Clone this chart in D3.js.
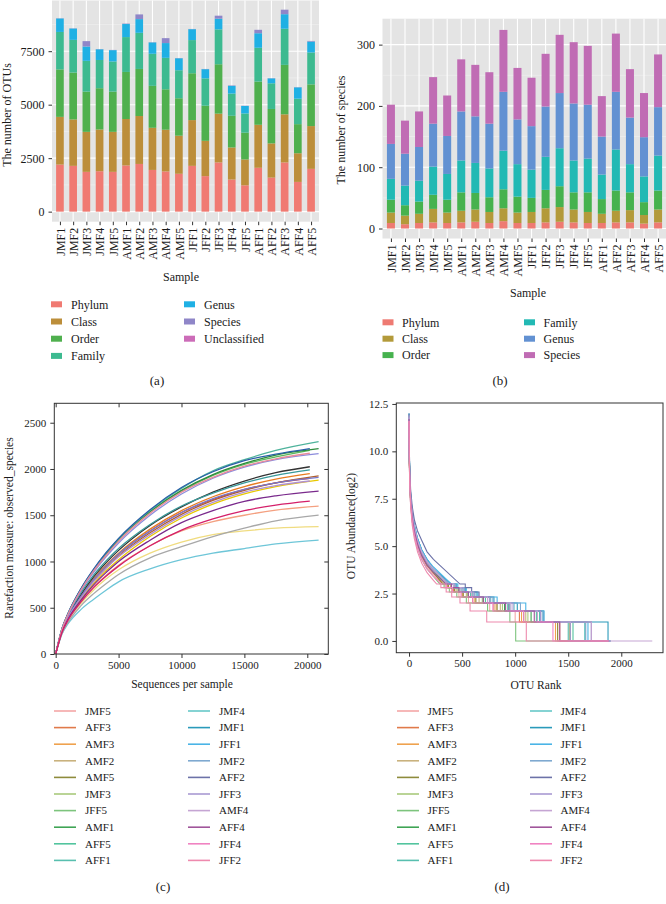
<!DOCTYPE html>
<html><head><meta charset="utf-8">
<script src="https://cdn.jsdelivr.net/npm/d3@7"></script>
<style>
body{margin:0;background:#fff}
svg{display:block}
text{font-family:"Liberation Serif","DejaVu Serif",serif;fill:#1a1a1a}
</style>
</head><body>
<svg id="chart" width="666" height="904"></svg>
<script>
// ---------- Data ----------
const samples = ["JMF1","JMF2","JMF3","JMF4","JMF5","AMF1","AMF2","AMF3","AMF4","AMF5","JFF1","JFF2","JFF3","JFF4","JFF5","AFF1","AFF2","AFF3","AFF4","AFF5"];

// (a) number of OTUs per taxonomic level
const otuLevels = ["Phylum","Class","Order","Family","Genus","Species","Unclassified"];
const otuPhylum  = [2200,2140,1860,1890,1860,2160,2230,1950,1880,1770,2140,1660,2300,1500,1230,2050,1590,2300,1390,2000];
const otuClass   = [2230,2170,1870,1950,1870,2170,2240,1970,1950,1780,2140,1650,2280,1500,1210,2010,1600,2250,1340,2000];
const otuOrder   = [2220,2190,1880,1930,1880,2200,2200,1960,1890,1750,2190,1640,2310,1480,1250,2020,1610,2310,1360,1950];
const otuFamily  = [1750,1530,1440,1320,1410,1630,1690,1500,1470,1310,1550,1280,1630,1040,900,1580,1200,1690,1190,1490];
const otuGenus   = [630,530,670,500,530,610,640,530,690,560,510,430,500,360,350,680,230,680,530,510];
const otuSpecies = [10,10,250,10,10,20,220,10,230,10,10,10,140,20,10,160,10,210,10,30];
const otuUnclass = [0,0,0,0,0,0,0,0,0,0,0,0,0,0,0,0,0,0,0,0];
const otuColors  = ["#F07A72","#BC8E3A","#4FB04E","#3DBA90","#1FB0E4","#8F86C8","#CC6CB8"];
const otuTicks   = [0,2500,5000,7500];

// (b) number of species per taxonomic level
const spLevels  = ["Phylum","Class","Order","Family","Genus","Species"];
const spPhylum  = [9,7,9,10,9,10,11,9,12,9,9,10,11,10,9,9,10,10,8,10];
const spClass   = [17,14,15,22,17,19,20,18,21,17,18,23,24,21,18,15,19,20,14,21];
const spOrder   = [21,17,20,23,21,30,27,24,31,26,23,30,34,28,32,24,33,29,21,31];
const spFamily  = [34,32,34,46,42,52,49,47,63,53,46,54,62,52,55,40,67,46,42,57];
const spGenus   = [57,52,55,70,62,80,76,73,96,73,71,82,90,93,88,62,94,76,64,79];
const spSpecies = [64,54,58,76,66,85,84,84,101,84,79,86,95,100,96,66,95,79,72,86];
const spColors  = ["#EE7A72","#B39A3A","#46B24E","#22B9B4","#6291D2","#C06CB4"];
const spTicks   = [0,100,200,300];

// (c) rarefaction curves
const curveSamples = ["JMF5","AFF3","AMF3","AMF2","AMF5","JMF3","JFF5","AMF1","AFF5","AFF1","JMF4","JMF1","JFF1","JMF2","AFF2","JFF3","AMF4","AFF4","JFF4","JFF2"];
const legendColors = ["#F4A6A6","#E07A4A","#EFA24E","#C9B27E","#8E8B3C","#A9C97B","#7DC47D","#3FA455","#52C49E","#58BFAF","#66C8C8","#2A9ABA","#4AB4E6","#7FA9D0","#6C72A8","#A99AD2","#C5A5D3","#A0559A","#F083C2","#EE8AAE"];
const rareColors   = ["#F4A080","#D83838","#E87C20","#B06030","#333333","#F0DC80","#5CB85C","#2E8B3E","#3A9A9A","#4FB39C","#6EC6D8","#2A5EA8","#E8C800","#7878C8","#8C8CDC","#B090D0","#A8A8A8","#7A2A8C","#E88A9A","#D4206A"];
const rareDepths = [0,500,1000,2000,3000,4000,5000,7500,10000,12500,15000,17500];
const rareEnd    = [20900,20200,20200,20900,20200,20900,20200,20900,20200,20900,20900,20200,20900,20900,20900,20200,20900,20900,20200,20200];
const rareValues = [
  [0,240,375,570,725,850,960,1170,1330,1430,1500,1555,1599],
  [0,252,405,625,805,955,1080,1330,1530,1670,1780,1850,1900],
  [0,255,410,630,810,960,1090,1350,1550,1700,1810,1890,1950],
  [0,250,400,615,790,935,1060,1310,1510,1660,1770,1850,1925],
  [0,255,410,640,830,985,1120,1390,1590,1750,1870,1960,2024],
  [0,235,365,545,690,810,910,1090,1210,1290,1330,1360,1376],
  [0,268,438,695,900,1075,1235,1535,1760,1930,2050,2130,2200],
  [0,270,440,700,905,1080,1240,1540,1770,1940,2060,2150,2219],
  [0,260,420,660,850,1005,1140,1400,1600,1740,1850,1930,1990],
  [0,270,440,700,910,1090,1245,1550,1790,1980,2100,2200,2295],
  [0,215,330,480,590,690,780,920,1020,1090,1140,1190,1232],
  [0,275,445,705,915,1095,1250,1560,1800,1970,2090,2160,2220],
  [0,240,385,590,760,900,1020,1270,1470,1620,1730,1810,1880],
  [0,250,400,620,800,950,1080,1330,1530,1680,1780,1850,1909],
  [0,265,430,680,880,1050,1200,1500,1730,1900,2020,2100,2165],
  [0,248,395,605,780,925,1050,1290,1490,1640,1750,1820,1870],
  [0,220,345,520,650,760,860,1040,1160,1270,1360,1440,1502],
  [0,240,380,580,745,880,1000,1230,1420,1550,1650,1710,1761],
  [0,268,435,690,895,1065,1220,1520,1750,1910,2030,2110,2170],
  [0,235,370,560,715,840,950,1170,1340,1460,1550,1610,1653]
];
const rareXTicks = [0,5000,10000,15000,20000];
const rareYTicks = [0,500,1000,1500,2000,2500];

// (d) rank-abundance curves
const headRanks = [0,3,8,15,30,50,80,120,170,230];
const headValues = [
  [11.7,9.4,8.2,7.3,6.4,5.7,5.0,4.4,3.9,3.5],
  [11.8,9.5,8.3,7.4,6.5,5.8,5.1,4.5,4.0,3.6],
  [11.7,9.5,8.3,7.4,6.5,5.8,5.1,4.5,4.0,3.6],
  [11.8,9.6,8.4,7.5,6.6,5.9,5.2,4.6,4.1,3.7],
  [11.8,9.5,8.3,7.4,6.5,5.8,5.1,4.5,4.0,3.6],
  [11.9,9.6,8.4,7.5,6.6,5.9,5.2,4.6,4.1,3.7],
  [11.6,9.3,8.1,7.2,6.3,5.6,4.9,4.3,3.8,3.4],
  [11.8,9.6,8.4,7.5,6.6,5.9,5.2,4.6,4.1,3.7],
  [11.8,9.7,8.5,7.6,6.7,6.0,5.3,4.7,4.2,3.8],
  [11.9,9.7,8.5,7.6,6.7,6.0,5.3,4.7,4.2,3.8],
  [12.0,9.8,8.6,7.7,6.8,6.1,5.4,4.8,4.3,3.8],
  [11.9,9.8,8.6,7.7,6.8,6.1,5.4,4.8,4.3,3.8],
  [12.0,9.8,8.6,7.7,6.8,6.1,5.4,4.8,4.3,3.9],
  [11.9,9.7,8.5,7.6,6.7,6.0,5.3,4.7,4.2,3.8],
  [12.0,10.0,8.9,8.0,7.1,6.4,5.8,5.3,4.7,4.3],
  [11.8,9.6,8.4,7.5,6.6,5.9,5.2,4.6,4.1,3.7],
  [11.9,9.7,8.5,7.6,6.7,6.0,5.3,4.7,4.2,3.8],
  [11.7,9.5,8.3,7.4,6.5,5.8,5.1,4.5,4.0,3.6],
  [11.6,9.3,8.1,7.2,6.3,5.6,4.9,4.3,3.8,3.4],
  [11.6,9.2,8.0,7.1,6.1,5.4,4.7,4.1,3.6,3.2]
];
const stepLevels = [3.0,2.81,2.58,2.32,2.0,1.58,1.0,0];
const stepRanks = [
  [300,340,400,470,560,760,1000,1400],
  [320,360,420,500,600,800,1040,1420],
  [320,370,430,510,620,820,1060,1380],
  [340,390,450,540,660,860,1100,1510],
  [320,370,430,510,630,830,1080,1400],
  [350,400,460,550,690,880,1120,1660],
  [290,330,380,450,540,740,950,1005],
  [350,400,470,560,700,900,1150,1520],
  [370,420,490,580,720,930,1200,1545],
  [370,430,500,600,740,950,1230,1500],
  [390,440,520,620,770,990,1262,1655],
  [400,450,530,640,800,1020,1270,1875],
  [400,460,540,650,830,1100,1270,1686],
  [380,440,520,620,790,1050,1262,1665],
  [480,530,590,660,760,940,1240,1718],
  [380,430,510,610,760,980,1240,1520],
  [360,420,490,590,740,960,1210,1718],
  [350,400,470,560,700,910,1180,1420],
  [310,350,410,490,600,790,1080,1356],
  [260,300,350,402,480,575,732,1105]
];
const rankEnd = [1880,1885,1880,1890,1880,1895,1880,1890,1885,1890,1895,1900,1895,1890,1900,1890,2292,1880,1880,1880];
const rankXTicks = [0,500,1000,1500,2000];
const rankYTicks = [0,2.5,5,7.5,10,12.5];

// ---------- Drawing ----------
const svg = d3.select("#chart");

function styleAxis(g, fs) {
  g.select(".domain").remove();
  g.selectAll(".tick line").attr("stroke", "#333").attr("stroke-width", 1);
  g.selectAll(".tick text").attr("font-size", fs).attr("fill", "#1a1a1a")
    .attr("font-family", '"Liberation Serif","DejaVu Serif",serif');
}

function barPanel(cfg) {
  const g = svg.append("g");
  const x = d3.scalePoint().domain(samples).range([cfg.left, cfg.right]).padding(0.6);
  const y = d3.scaleLinear().domain(cfg.yDomain).range([cfg.bottom, cfg.top]);
  g.append("rect").attr("x", cfg.left).attr("y", cfg.top)
    .attr("width", cfg.right - cfg.left).attr("height", cfg.bottom - cfg.top).attr("fill", "#E4E4E4");
  const minor = [];
  for (let i = 0; i < cfg.ticks.length; i++) {
    const step = cfg.ticks[1] - cfg.ticks[0];
    const m = cfg.ticks[i] + step / 2;
    if (m < cfg.yDomain[1]) minor.push(m);
  }
  g.selectAll(".minor").data(minor).join("line")
    .attr("x1", cfg.left).attr("x2", cfg.right).attr("y1", d => y(d)).attr("y2", d => y(d))
    .attr("stroke", "#F2F2F2").attr("stroke-width", 0.6);
  g.selectAll(".major").data(cfg.ticks).join("line")
    .attr("x1", cfg.left).attr("x2", cfg.right).attr("y1", d => y(d)).attr("y2", d => y(d))
    .attr("stroke", "#fff").attr("stroke-width", 1.1);
  g.selectAll(".vgrid").data(samples).join("line")
    .attr("x1", d => x(d)).attr("x2", d => x(d)).attr("y1", cfg.top).attr("y2", cfg.bottom)
    .attr("stroke", "#fff").attr("stroke-width", 1.1);
  const table = samples.map((s, i) => {
    const row = { sample: s };
    cfg.keys.forEach((k, j) => row[k] = cfg.series[j][i]);
    return row;
  });
  const stacked = d3.stack().keys(cfg.keys)(table);
  const color = d3.scaleOrdinal().domain(cfg.keys).range(cfg.colors);
  const bw = x.step() * cfg.barFrac;
  g.selectAll(".layer").data(stacked).join("g").attr("fill", d => color(d.key))
    .selectAll("rect").data(d => d).join("rect")
    .attr("x", d => x(d.data.sample) - bw / 2)
    .attr("width", bw)
    .attr("y", d => y(d[1]))
    .attr("height", d => Math.max(0, y(d[0]) - y(d[1])));
  const ay = g.append("g").attr("transform", `translate(${cfg.left},0)`)
    .call(d3.axisLeft(y).tickValues(cfg.ticks).tickSize(3.5).tickPadding(4).tickFormat(d3.format("d")));
  styleAxis(ay, 12);
  const ax = g.append("g").attr("transform", `translate(0,${cfg.bottom})`)
    .call(d3.axisBottom(x).tickSize(3.5));
  styleAxis(ax, 12);
  ax.selectAll(".tick text").attr("transform", "rotate(-90)").attr("text-anchor", "end")
    .attr("x", -6).attr("y", 0).attr("dy", "0.35em");
  g.append("text").attr("transform", `translate(${cfg.yTitleX},${cfg.yTitleY}) rotate(-90)`)
    .attr("text-anchor", "middle").attr("dy", "0.35em").attr("font-size", 12).text(cfg.yTitle);
  g.append("text").attr("x", cfg.sampleX).attr("y", cfg.sampleY).attr("text-anchor", "middle")
    .attr("dy", "0.35em").attr("font-size", 12).text("Sample");
  const lg = g.append("g");
  cfg.keys.forEach((k, i) => {
    const col = Math.floor(i / cfg.perCol), row = i % cfg.perCol;
    const yy = cfg.legY + row * cfg.legStep;
    const sx = cfg.legCols[col];
    lg.append("rect").attr("x", sx).attr("y", yy - 3).attr("width", 11).attr("height", 6).attr("fill", color(k));
    lg.append("text").attr("x", sx + cfg.legTextOff).attr("y", yy).attr("dy", "0.35em").attr("font-size", 12).text(k);
  });
  g.append("text").attr("x", cfg.capX).attr("y", cfg.capY).attr("text-anchor", "middle")
    .attr("dy", "0.35em").attr("font-size", 13).text(cfg.cap);
}

barPanel({
  left: 52, right: 319, top: 0.5, bottom: 221.7, yDomain: [-470, 9870],
  keys: otuLevels, series: [otuPhylum, otuClass, otuOrder, otuFamily, otuGenus, otuSpecies, otuUnclass],
  colors: otuColors, ticks: otuTicks, barFrac: 0.58,
  yTitle: "The number of OTUs", yTitleX: 7, yTitleY: 115,
  sampleX: 181, sampleY: 277,
  legCols: [51, 184], legY: 304.3, legStep: 17.2, perCol: 4, legTextOff: 20,
  cap: "(a)", capX: 157, capY: 380
});

barPanel({
  left: 382.5, right: 666.5, top: 18.7, bottom: 238.5, yDomain: [-16.3, 342.3],
  keys: spLevels, series: [spPhylum, spClass, spOrder, spFamily, spGenus, spSpecies],
  colors: spColors, ticks: spTicks, barFrac: 0.57,
  yTitle: "The number of species", yTitleX: 341, yTitleY: 130,
  sampleX: 528, sampleY: 293,
  legCols: [382.5, 524], legY: 322.3, legStep: 16.4, perCol: 3, legTextOff: 19.5,
  cap: "(b)", capX: 500, capY: 380
});

// ---------- (c) rarefaction ----------
(function () {
  const L = 54.3, R = 328.3, T = 403.3, B = 654;
  const x = d3.scaleLinear().domain([-110, 21670]).range([L, R]);
  const y = d3.scaleLinear().domain([0, 2710]).range([B, T]);
  const g = svg.append("g");
  g.append("clipPath").attr("id", "clipC").append("rect").attr("x", L).attr("y", T).attr("width", R - L).attr("height", B - T);
  const line = d3.line().x(d => x(d[0])).y(d => y(d[1])).curve(d3.curveMonotoneX);
  const lines = g.append("g").attr("clip-path", "url(#clipC)");
  curveSamples.forEach((s, i) => {
    const depths = rareDepths.concat([rareEnd[i]]);
    const pts = depths.map((dx, j) => [dx, rareValues[i][j]]);
    lines.append("path").attr("d", line(pts)).attr("fill", "none")
      .attr("stroke", rareColors[i]).attr("stroke-width", 1.3);
  });
  g.append("rect").attr("x", L).attr("y", T).attr("width", R - L).attr("height", B - T)
    .attr("fill", "none").attr("stroke", "#333").attr("stroke-width", 1);
  const ay = g.append("g").attr("transform", `translate(${L},0)`)
    .call(d3.axisLeft(y).tickValues(rareYTicks).tickSize(4).tickPadding(4).tickFormat(d3.format("d")));
  styleAxis(ay, 11);
  const ax = g.append("g").attr("transform", `translate(0,${B})`)
    .call(d3.axisBottom(x).tickValues(rareXTicks).tickSize(4).tickPadding(3).tickFormat(d3.format("d")));
  styleAxis(ax, 11);
  const at = g.append("g").attr("transform", `translate(0,${T})`)
    .call(d3.axisTop(x).tickValues(rareXTicks).tickSize(-4).tickFormat(""));
  styleAxis(at, 11);
  const ar = g.append("g").attr("transform", `translate(${R},0)`)
    .call(d3.axisRight(y).tickValues(rareYTicks).tickSize(-4).tickFormat(""));
  styleAxis(ar, 11);
  g.append("text").attr("transform", `translate(9,528) rotate(-90)`).attr("text-anchor", "middle")
    .attr("dy", "0.35em").attr("font-size", 11.5).text("Rarefaction measure: observed_species");
  g.append("text").attr("x", 182).attr("y", 684).attr("text-anchor", "middle").attr("dy", "0.35em")
    .attr("font-size", 11.5).text("Sequences per sample");
  curveSamples.forEach((s, i) => {
    const col = Math.floor(i / 10), row = i % 10;
    const yy = 711 + row * 16.6;
    const lx = [54, 188][col];
    g.append("line").attr("x1", lx).attr("x2", lx + 22).attr("y1", yy).attr("y2", yy)
      .attr("stroke", legendColors[i]).attr("stroke-width", 1.6);
    g.append("text").attr("x", lx + 31).attr("y", yy).attr("dy", "0.35em").attr("font-size", 11).text(s);
  });
  g.append("text").attr("x", 163).attr("y", 886).attr("text-anchor", "middle").attr("dy", "0.35em")
    .attr("font-size", 13).text("(c)");
})();

// ---------- (d) rank abundance ----------
(function () {
  const L = 396.3, R = 663, T = 403, B = 652.7;
  const x = d3.scaleLinear().domain([-120, 2393]).range([L, R]);
  const y = d3.scaleLinear().domain([-0.62, 12.55]).range([B, T]);
  const g = svg.append("g");
  g.append("clipPath").attr("id", "clipD").append("rect").attr("x", L).attr("y", T).attr("width", R - L).attr("height", B - T);
  const line = d3.line().x(d => x(d[0])).y(d => y(d[1]));
  const lines = g.append("g").attr("clip-path", "url(#clipD)");
  curveSamples.forEach((s, i) => {
    const pts = headRanks.map((r, j) => [r, headValues[i][j]]);
    pts.push([stepRanks[i][0], stepLevels[0]]);
    for (let k = 1; k < stepLevels.length; k++) {
      pts.push([stepRanks[i][k], stepLevels[k - 1]]);
      pts.push([stepRanks[i][k], stepLevels[k]]);
    }
    pts.push([rankEnd[i], 0]);
    lines.append("path").attr("d", line(pts)).attr("fill", "none")
      .attr("stroke", legendColors[i]).attr("stroke-width", 1.1);
  });
  g.append("rect").attr("x", L).attr("y", T).attr("width", R - L).attr("height", B - T)
    .attr("fill", "none").attr("stroke", "#333").attr("stroke-width", 1);
  const ay = g.append("g").attr("transform", `translate(${L},0)`)
    .call(d3.axisLeft(y).tickValues(rankYTicks).tickSize(4).tickPadding(4).tickFormat(d3.format(".1f")));
  styleAxis(ay, 11);
  const ax = g.append("g").attr("transform", `translate(0,${B})`)
    .call(d3.axisBottom(x).tickValues(rankXTicks).tickSize(4).tickPadding(3).tickFormat(d3.format("d")));
  styleAxis(ax, 11);
  g.append("text").attr("transform", `translate(351,526) rotate(-90)`).attr("text-anchor", "middle")
    .attr("dy", "0.35em").attr("font-size", 11.5).text("OTU Abundance(log2)");
  g.append("text").attr("x", 536).attr("y", 685).attr("text-anchor", "middle").attr("dy", "0.35em")
    .attr("font-size", 11.5).text("OTU Rank");
  curveSamples.forEach((s, i) => {
    const col = Math.floor(i / 10), row = i % 10;
    const yy = 711 + row * 16.6;
    const lx = [397, 530][col];
    g.append("line").attr("x1", lx).attr("x2", lx + 22).attr("y1", yy).attr("y2", yy)
      .attr("stroke", legendColors[i]).attr("stroke-width", 1.6);
    g.append("text").attr("x", lx + 30.5).attr("y", yy).attr("dy", "0.35em").attr("font-size", 11).text(s);
  });
  g.append("text").attr("x", 502).attr("y", 886).attr("text-anchor", "middle").attr("dy", "0.35em")
    .attr("font-size", 13).text("(d)");
})();
</script>
</body></html>
